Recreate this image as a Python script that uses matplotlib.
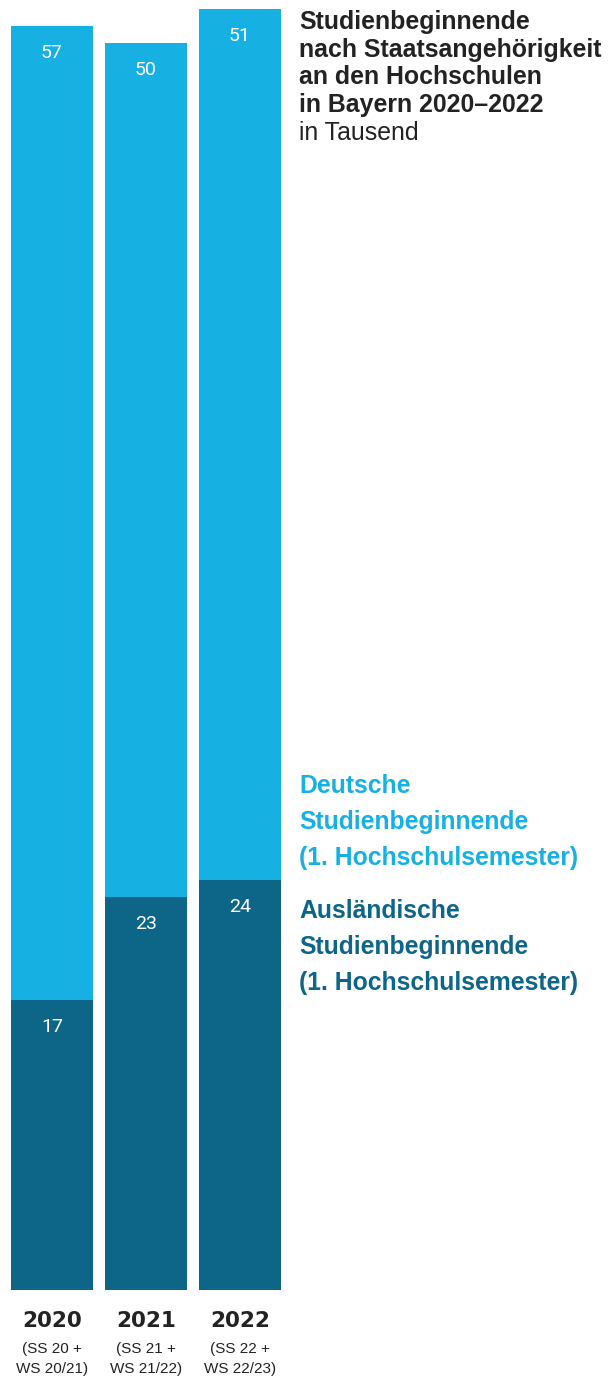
import matplotlib
matplotlib.use("Agg")
import matplotlib.pyplot as plt
from matplotlib import font_manager

years = ["2020", "2021", "2022"]
semesters = ["(SS 20 +\nWS 20/21)", "(SS 21 +\nWS 21/22)", "(SS 22 +\nWS 22/23)"]
auslaendisch = [17, 23, 24]
deutsch = [57, 50, 51]

LIGHT = "#16B0E2"
DARK = "#0D6687"
TXT = "#222222"

names = {f.name for f in font_manager.fontManager.ttflist}
NARROW = "Liberation Sans Narrow" if "Liberation Sans Narrow" in names else "Liberation Sans"

W, H = 616, 1379
fig = plt.figure(figsize=(W / 100, H / 100), dpi=100)

def fx(px):
    return px / W

def fy(py):
    return 1 - py / H

ax = fig.add_axes([fx(11), fy(1290), (281 - 11) / W, (1290 - 9) / H])
width = 82 / 94
xs = list(range(len(years)))
ax.bar(xs, auslaendisch, width=width, color=DARK, linewidth=0)
ax.bar(xs, deutsch, width=width, bottom=auslaendisch, color=LIGHT, linewidth=0)
ax.set_xlim(-width / 2, len(years) - 1 + width / 2)
ax.set_ylim(0, 75)
ax.axis("off")

off = -27 * 72 / 100
for i in xs:
    ax.annotate(str(auslaendisch[i]), (i, auslaendisch[i]), xytext=(0, off),
                textcoords="offset points", ha="center", va="center",
                color="white", fontsize=14, family="Roboto")
    top = auslaendisch[i] + deutsch[i]
    ax.annotate(str(deutsch[i]), (i, top), xytext=(0, off),
                textcoords="offset points", ha="center", va="center",
                color="white", fontsize=14, family="Roboto")

centers = [52, 146, 240]
for c, y, s in zip(centers, years, semesters):
    fig.text(fx(c), fy(1327), y, ha="center", va="baseline", fontsize=15.5,
             fontweight="bold", color=TXT, family="DejaVu Sans")
    l1, l2 = s.split("\n")
    fs = 12.5 if NARROW != "Liberation Sans" else 11
    fig.text(fx(c), fy(1353), l1, ha="center", va="baseline", fontsize=fs,
             color=TXT, family=NARROW)
    fig.text(fx(c), fy(1373), l2, ha="center", va="baseline", fontsize=fs,
             color=TXT, family=NARROW)

title_lines = ["Studienbeginnende", "nach Staatsangehörigkeit",
               "an den Hochschulen", "in Bayern 2020\u20132022"]
base = [29, 57, 84, 112]
for t, b in zip(title_lines, base):
    fig.text(fx(299), fy(b), t, ha="left", va="baseline", fontsize=17.9,
             fontweight="bold", color=TXT, family="Liberation Sans")
fig.text(fx(299), fy(140), "in Tausend", ha="left", va="baseline", fontsize=17.9,
         color=TXT, family="Liberation Sans")

leg_d = ["Deutsche", "Studienbeginnende", "(1. Hochschulsemester)"]
leg_a = ["Ausländische", "Studienbeginnende", "(1. Hochschulsemester)"]
for t, b in zip(leg_d, [793, 829, 865]):
    fig.text(fx(299), fy(b), t, ha="left", va="baseline", fontsize=17.8,
             fontweight="bold", color=LIGHT, family="Liberation Sans")
for t, b in zip(leg_a, [918, 954, 990]):
    fig.text(fx(299), fy(b), t, ha="left", va="baseline", fontsize=17.8,
             fontweight="bold", color=DARK, family="Liberation Sans")

fig.savefig("out.png", dpi=100)
